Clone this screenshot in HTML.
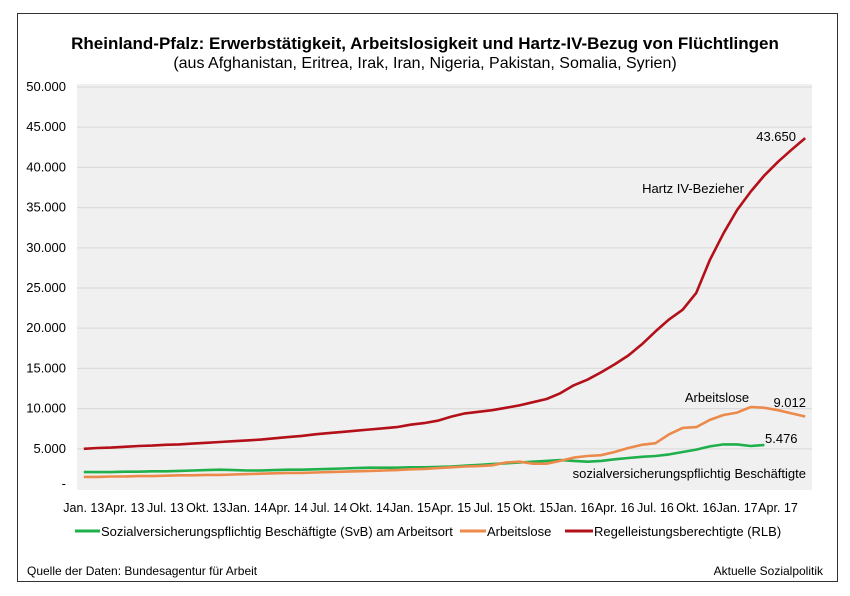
<!DOCTYPE html>
<html><head><meta charset="utf-8">
<style>
body{margin:0;background:#fff;width:850px;height:591px;overflow:hidden;font-family:"Liberation Sans",Arial,sans-serif;}
svg text{font-family:"Liberation Sans",Arial,sans-serif;}
</style></head>
<body>
<svg width="850" height="591" viewBox="0 0 850 591">
<rect x="17.5" y="13.5" width="820" height="568" fill="#fff" stroke="#333" stroke-width="1"/>
<text x="425" y="49" text-anchor="middle" font-size="17" font-weight="bold" fill="#000">Rheinland-Pfalz: Erwerbstätigkeit, Arbeitslosigkeit und Hartz-IV-Bezug von Flüchtlingen</text>
<text x="425" y="68" text-anchor="middle" font-size="16" fill="#000">(aus Afghanistan, Eritrea, Irak, Iran, Nigeria, Pakistan, Somalia, Syrien)</text>
<rect x="77" y="84" width="735" height="406" fill="#f0f0f0"/>
<g id="grid"></g><g id="ylab"></g><g id="xlab"></g><g id="series"></g>
<text x="796" y="141" text-anchor="end" font-size="13" fill="#000">43.650</text>
<text x="693" y="193" text-anchor="middle" font-size="13" fill="#000">Hartz IV-Bezieher</text>
<text x="717" y="402" text-anchor="middle" font-size="13" fill="#000">Arbeitslose</text>
<text x="806" y="407" text-anchor="end" font-size="13" fill="#000">9.012</text>
<text x="765" y="443" font-size="13" fill="#000">5.476</text>
<text x="806" y="478" text-anchor="end" font-size="13" fill="#000">sozialversicherungspflichtig Beschäftigte</text>
<g>
<line x1="75" y1="531" x2="100" y2="531" stroke="#1fb04c" stroke-width="3"/>
<text x="101" y="536" font-size="13">Sozialversicherungspflichtig Beschäftigte (SvB) am Arbeitsort</text>
<line x1="460" y1="531" x2="486" y2="531" stroke="#ec8a4b" stroke-width="3"/>
<text x="487" y="536" font-size="13">Arbeitslose</text>
<line x1="565" y1="531" x2="593" y2="531" stroke="#b3101a" stroke-width="3"/>
<text x="594" y="536" font-size="13">Regelleistungsberechtigte (RLB)</text>
</g>
<text x="27" y="575" font-size="12">Quelle der Daten: Bundesagentur für Arbeit</text>
<text x="823" y="575" text-anchor="end" font-size="12">Aktuelle Sozialpolitik</text>
</svg>
<script>
const xTickLabels=["Jan. 13","Apr. 13","Jul. 13","Okt. 13","Jan. 14","Apr. 14","Jul. 14","Okt. 14","Jan. 15","Apr. 15","Jul. 15","Okt. 15","Jan. 16","Apr. 16","Jul. 16","Okt. 16","Jan. 17","Apr. 17"];
const yTicks=[0,5000,10000,15000,20000,25000,30000,35000,40000,45000,50000];
const yTickLabels=["-","5.000","10.000","15.000","20.000","25.000","30.000","35.000","40.000","45.000","50.000"];
const rlb=[5000,5100,5150,5250,5350,5400,5500,5550,5650,5750,5850,5950,6050,6150,6300,6450,6600,6800,6950,7100,7250,7400,7550,7700,8000,8200,8500,9000,9400,9600,9800,10100,10400,10800,11200,11900,12900,13600,14500,15500,16600,18000,19600,21100,22300,24400,28500,31800,34700,37000,39000,40700,42200,43650];
const arbeitslose=[1500,1500,1550,1550,1600,1600,1650,1700,1700,1750,1750,1800,1850,1900,1950,2000,2000,2050,2100,2150,2200,2250,2300,2350,2450,2500,2600,2700,2800,2850,2950,3300,3400,3150,3150,3500,3900,4100,4200,4600,5100,5500,5700,6800,7600,7700,8600,9200,9500,10200,10100,9800,9400,9012];
const svb=[2100,2100,2100,2150,2150,2200,2200,2250,2300,2350,2400,2350,2300,2300,2350,2400,2400,2450,2500,2550,2600,2650,2650,2650,2700,2700,2750,2800,2900,3000,3100,3200,3300,3400,3500,3600,3500,3400,3500,3700,3850,4000,4100,4300,4600,4900,5300,5550,5550,5350,5476];
const NS="http://www.w3.org/2000/svg";
const nCat=54,left=77,width=735,yZero=489,yTop=87;
function xs(i){return left+width/nCat*(i+0.5);}
function ys(v){return yZero-(v/50000)*(yZero-yTop);}
const grid=document.getElementById('grid'),ylab=document.getElementById('ylab'),xlab=document.getElementById('xlab'),ser=document.getElementById('series');
yTicks.forEach((t,k)=>{
  if(t>0){const l=document.createElementNS(NS,'line');
  l.setAttribute('x1',left);l.setAttribute('x2',left+width);l.setAttribute('y1',ys(t));l.setAttribute('y2',ys(t));
  l.setAttribute('stroke','#dcdcdc');l.setAttribute('stroke-width','1.2');
  
  
  grid.appendChild(l);}
  const tx=document.createElementNS(NS,'text');
  tx.setAttribute('x',66);tx.setAttribute('y',ys(t)+(t===0?-1:4));tx.setAttribute('text-anchor','end');tx.setAttribute('font-size','13');
  tx.textContent=yTickLabels[k];
  
  
  ylab.appendChild(tx);
});
xTickLabels.forEach((s,k)=>{
  const tx=document.createElementNS(NS,'text');
  tx.setAttribute('x',xs(k*3));tx.setAttribute('y',512);tx.setAttribute('text-anchor','middle');tx.setAttribute('font-size','12.5');
  tx.textContent=s;
  
  
  xlab.appendChild(tx);
});
function drawLine(data,color,name){
  const p=document.createElementNS(NS,'polyline');
  p.setAttribute('points',data.map((v,i)=>xs(i).toFixed(1)+','+ys(v).toFixed(1)).join(' '));
  p.setAttribute('fill','none');p.setAttribute('stroke',color);p.setAttribute('stroke-width','2.6');p.setAttribute('stroke-linejoin','round');
  
  
  ser.appendChild(p);
}
drawLine(svb,'#1fb04c','svb-line');
drawLine(arbeitslose,'#ec8a4b','arbeitslose-line');
drawLine(rlb,'#b3101a','rlb-line');
</script>
</body></html>
